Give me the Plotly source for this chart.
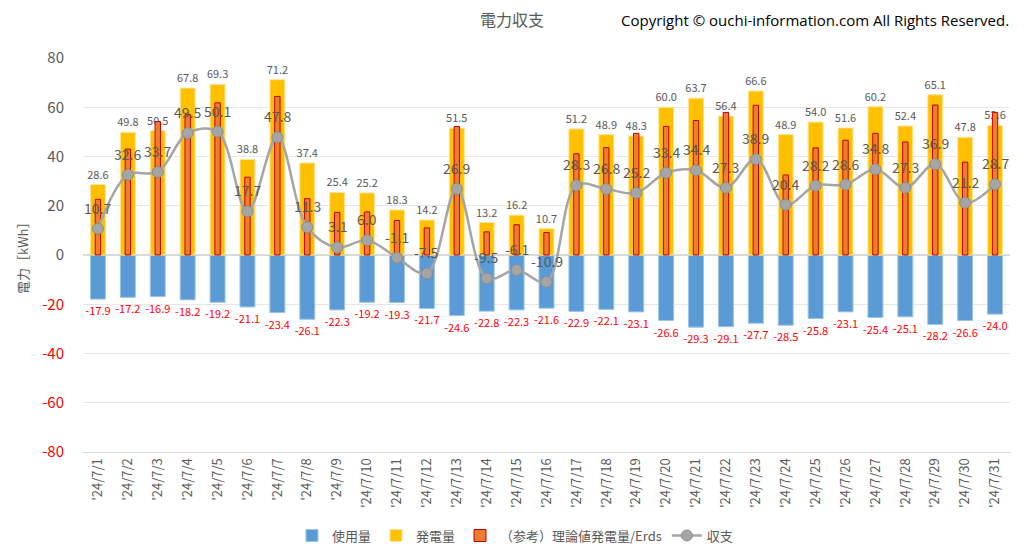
import plotly.graph_objects as go

dates = [f"'24/7/{d}" for d in range(1, 32)]
usage = [-17.9, -17.2, -16.9, -18.2, -19.2, -21.1, -23.4, -26.1, -22.3, -19.2, -19.3, -21.7, -24.6, -22.8, -22.3,
         -21.6, -22.9, -22.1, -23.1, -26.6, -29.3, -29.1, -27.7, -28.5, -25.8, -23.1, -25.4, -25.1, -28.2, -26.6, -24.0]
generation = [28.6, 49.8, 50.5, 67.8, 69.3, 38.8, 71.2, 37.4, 25.4, 25.2, 18.3, 14.2, 51.5, 13.2, 16.2,
              10.7, 51.2, 48.9, 48.3, 60.0, 63.7, 56.4, 66.6, 48.9, 54.0, 51.6, 60.2, 52.4, 65.1, 47.8, 52.6]
theory = [22.6, 43.0, 54.2, 57.0, 61.8, 31.6, 64.4, 22.9, 17.3, 17.5, 14.0, 11.0, 52.2, 9.4, 12.3,
          9.1, 41.1, 43.6, 49.4, 52.2, 54.6, 57.9, 60.8, 32.5, 43.5, 46.6, 49.4, 45.9, 60.9, 37.7, 57.9]
balance = [10.7, 32.6, 33.7, 49.5, 50.1, 17.7, 47.8, 11.3, 3.1, 6.0, -1.1, -7.5, 26.9, -9.5, -6.1,
           -10.9, 28.3, 26.8, 25.2, 33.4, 34.4, 27.3, 38.9, 20.4, 28.2, 28.6, 34.8, 27.3, 36.9, 21.2, 28.7]
y_ticks = [80, 60, 40, 20, 0, -20, -40, -60, -80]

JP = "Noto Sans CJK JP, Noto Sans, sans-serif"

fig = go.Figure()
fig.add_trace(go.Bar(
    x=dates, y=usage, name="使用量", width=0.5,
    marker=dict(color="#5B9BD5", line=dict(color="#9DC3E6", width=1)),
    text=[f"{v:.1f}" for v in usage], textposition="outside", constraintext="none",
    textfont=dict(color="#FF0000", size=11, family=JP), cliponaxis=False,
))
fig.add_trace(go.Bar(
    x=dates, y=generation, name="発電量", width=0.5,
    marker=dict(color="#FFC000", line=dict(color="#FFE699", width=1)),
    text=[f"{v:.1f}" for v in generation], textposition="outside", constraintext="none",
    textfont=dict(color="#595959", size=11, family=JP), cliponaxis=False,
))
fig.add_trace(go.Bar(
    x=dates, y=theory, name="（参考）理論値発電量/Erds", width=0.18,
    marker=dict(color="#ED7D31", line=dict(color="#C00000", width=1)),
    hoverinfo="y",
))
fig.add_trace(go.Scatter(
    x=dates, y=balance, name="収支", mode="lines+markers",
    line=dict(color="#A5A5A5", width=2.5, shape="spline", smoothing=1),
    marker=dict(color="#A5A5A5", size=11, line=dict(color="#8C8C8C", width=1)),
    cliponaxis=False,
))

ticktext = [f'<span style="color:#FF0000">{v}</span>' if v < 0 else str(v) for v in y_ticks]

annotations = [
    dict(text="Copyright © ouchi-information.com All Rights Reserved.",
         xref="paper", yref="paper", x=1.0, xshift=1, y=1.0, yshift=38, xanchor="right", yanchor="middle",
         showarrow=False, font=dict(size=15, color="#000000", family="Open Sans")),
    dict(text="電力［kWh］", xref="paper", yref="paper", x=0, xshift=-61, y=0.5,
         xanchor="center", yanchor="middle", textangle=-90, showarrow=False,
         font=dict(size=13, color="#595959", family=JP)),
]
for d, v in zip(dates, balance):
    annotations.append(dict(x=d, y=v, xref="x", yref="y", text=f"{v:.1f}", showarrow=False,
                            yshift=21, xanchor="center", yanchor="middle",
                            font=dict(size=14, color="#595959", family=JP)))

fig.update_layout(
    width=1008, height=549,
    barmode="overlay",
    paper_bgcolor="white", plot_bgcolor="white",
    margin=dict(l=75, r=6, t=50, b=98),
    font=dict(family=JP, color="#595959"),
    title=dict(text="電力収支", x=0.5, xanchor="center", y=0.9776, yanchor="middle",
               font=dict(size=16, color="#595959", family=JP)),
    showlegend=True,
    legend=dict(orientation="h", x=0.466, xanchor="center", y=-0.212, yanchor="middle",
                font=dict(size=13, color="#595959", family=JP), traceorder="normal",
                itemwidth=30, tracegroupgap=0),
    xaxis=dict(tickangle=-90, tickfont=dict(size=13, color="#595959"), showgrid=False,
               showline=True, linecolor="#D9D9D9", ticks="", automargin=False,
               range=[-0.5, len(dates) - 0.5]),
    yaxis=dict(range=[-80, 80], tickvals=y_ticks, ticktext=ticktext, automargin=False,
               tickfont=dict(size=15, color="#595959"), gridcolor="#E6E6E6",
               zeroline=True, zerolinecolor="#D9D9D9", ticklabelstandoff=18),
    annotations=annotations,
)

fig.write_html("out.html")
